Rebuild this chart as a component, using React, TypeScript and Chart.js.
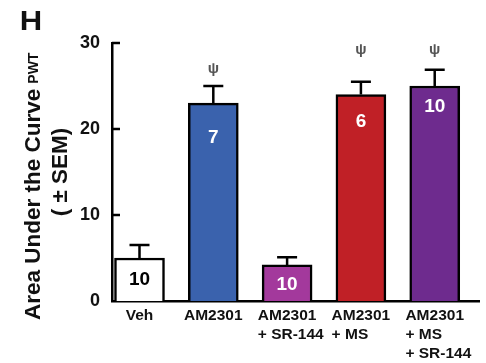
import React, { useEffect, useRef } from "react";
import { Chart, registerables } from "chart.js";

Chart.register(...registerables);

// ---- data ----
const categories: string[][] = [
  ["Veh"],
  ["AM2301"],
  ["AM2301", "+ SR-144"],
  ["AM2301", "+ MS"],
  ["AM2301", "+ MS", "+ SR-144"],
];
const means = [5.0, 23.0, 4.2, 24.0, 25.0];
const sems = [1.5, 2.0, 0.9, 1.5, 1.9];
const nLabels = ["10", "7", "10", "6", "10"];
const psiLevels: (number | null)[] = [null, 27.0, null, 29.2, 29.2];
const yTicks = [0, 10, 20, 30];
const panelLetter = "H";
const yTitleMain = "Area Under the Curve";
const yTitleSub = "PWT";
const yTitleLine2 = "( ± SEM)";
const psiSymbol = "ψ";

// ---- styles ----
const barColors = ["#ffffff", "#3a62ad", "#a3399c", "#c02026", "#6e2b8e"];
const nColors = ["#000000", "#ffffff", "#ffffff", "#ffffff", "#ffffff"];
const nOffsets = [22, 35, 20, 27, 21];
const FONT = '"Liberation Sans", Arial, Helvetica, sans-serif';

const overlay = {
  id: "overlay",
  afterDatasetsDraw(chart: any) {
    const { ctx, scales, chartArea } = chart;
    const x = scales.x;
    const y = scales.y;
    ctx.save();
    ctx.strokeStyle = "#000";
    ctx.lineWidth = 2.5;
    yTicks.forEach((v) => {
      if (v === 0) return;
      const py = y.getPixelForValue(v);
      ctx.beginPath();
      ctx.moveTo(chartArea.left, py);
      ctx.lineTo(chartArea.left + 8, py);
      ctx.stroke();
    });
    means.forEach((m, i) => {
      const cx = x.getPixelForValue(i);
      const top = y.getPixelForValue(m);
      const err = y.getPixelForValue(m + sems[i]);
      ctx.strokeStyle = "#000";
      ctx.lineWidth = 2.5;
      ctx.beginPath();
      ctx.moveTo(cx, top);
      ctx.lineTo(cx, err);
      ctx.moveTo(cx - 10, err);
      ctx.lineTo(cx + 10, err);
      ctx.stroke();
      ctx.fillStyle = nColors[i];
      ctx.font = `bold 19px ${FONT}`;
      ctx.textAlign = "center";
      ctx.textBaseline = "middle";
      ctx.fillText(nLabels[i], cx, top + nOffsets[i]);
      const p = psiLevels[i];
      if (p !== null) {
        ctx.fillStyle = "#555555";
        ctx.font = `bold 15px ${FONT}`;
        ctx.fillText(psiSymbol, cx, y.getPixelForValue(p));
      }
      ctx.fillStyle = "#111";
      ctx.font = `bold 15.5px ${FONT}`;
      ctx.textAlign = "left";
      const lines = categories[i];
      const w0 = ctx.measureText(lines[0]).width;
      const left = cx - w0 / 2;
      lines.forEach((ln, j) => {
        ctx.fillText(ln, left, chartArea.bottom + 15 + 19 * j);
      });
    });
    ctx.restore();
  },
  afterDraw(chart: any) {
    const { ctx, chartArea } = chart;
    ctx.save();
    ctx.fillStyle = "#111";
    ctx.save();
    ctx.translate(31, 23);
    ctx.scale(1.15, 1);
    ctx.font = `bold 27px ${FONT}`;
    ctx.textAlign = "center";
    ctx.textBaseline = "middle";
    ctx.fillText(panelLetter, 0, 0);
    ctx.restore();
    ctx.save();
    ctx.translate(40, chartArea.bottom + 19);
    ctx.rotate(-Math.PI / 2);
    ctx.textAlign = "left";
    ctx.textBaseline = "alphabetic";
    ctx.font = `bold 22.5px ${FONT}`;
    ctx.fillText(yTitleMain, 0, 0);
    const w = ctx.measureText(yTitleMain).width;
    ctx.font = `bold 14px ${FONT}`;
    ctx.fillText(yTitleSub, w + 5, -2);
    ctx.restore();
    ctx.save();
    ctx.translate(67, (chartArea.top + chartArea.bottom) / 2);
    ctx.rotate(-Math.PI / 2);
    ctx.textAlign = "center";
    ctx.textBaseline = "alphabetic";
    ctx.font = `bold 22.5px ${FONT}`;
    ctx.fillText(yTitleLine2, 0, 0);
    ctx.restore();
    ctx.restore();
  },
};

export default function App() {
  const ref = useRef<HTMLCanvasElement | null>(null);
  useEffect(() => {
    if (!ref.current) return;
    const chart = new Chart(ref.current, {
      type: "bar",
      data: {
        datasets: [
          {
            data: means.map((v, i) => ({ x: i, y: v })),
            backgroundColor: barColors,
            borderColor: "#000",
            borderWidth: 2.5,
            barThickness: 50,
          },
        ],
      },
      options: {
        animation: false,
        responsive: false,
        layout: { padding: { top: 43, right: 7, left: 0, bottom: 0 } },
        plugins: { legend: { display: false }, tooltip: { enabled: false } },
        scales: {
          x: {
            type: "linear",
            min: -0.3726,
            max: 4.6,
            offset: false,
            ticks: { display: false },
            grid: { display: false, drawTicks: false },
            border: { display: true, color: "#000", width: 2.5 },
            afterFit: (s: any) => {
              s.height = 62;
            },
          },
          y: {
            min: 0,
            max: 30,
            ticks: {
              stepSize: 10,
              padding: 12,
              color: "#111",
              font: { family: FONT, weight: "bold", size: 18 },
            },
            afterBuildTicks: (s: any) => {
              s.ticks = yTicks.map((v) => ({ value: v }));
            },
            grid: { display: false, drawTicks: false },
            border: { display: true, color: "#000", width: 2.5 },
            afterFit: (s: any) => {
              s.width = 112;
            },
          },
        },
      },
      plugins: [overlay],
    } as any);
    return () => chart.destroy();
  }, []);
  return (
    <div style={{ position: "absolute", left: 0, top: 0, width: 486, height: 363, background: "#fff" }}>
      <canvas ref={ref} width={486} height={363} />
    </div>
  );
}
